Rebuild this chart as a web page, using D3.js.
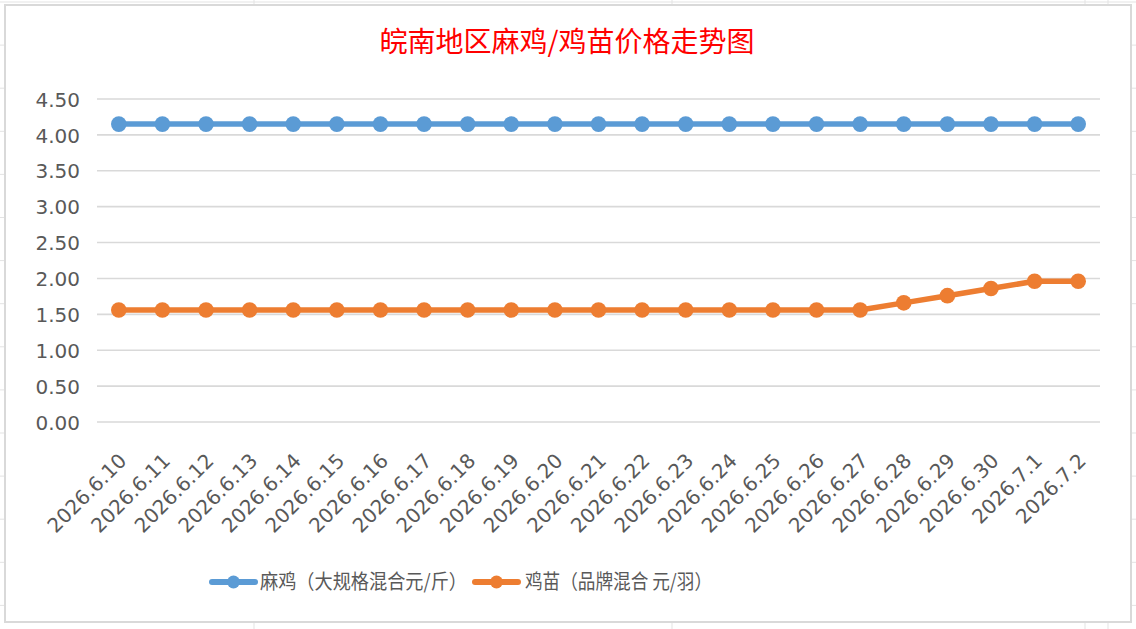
<!DOCTYPE html>
<html>
<head>
<meta charset="utf-8">
<script src="https://cdn.jsdelivr.net/npm/d3@7"></script>
<style>
  html, body { margin: 0; padding: 0; background: #fff; }
  svg { display: block; }
</style>
</head>
<body>
<svg id="chart" width="1136" height="629"></svg>
<script>
// ---- data ----
const categories = ["2026.6.10","2026.6.11","2026.6.12","2026.6.13","2026.6.14","2026.6.15","2026.6.16","2026.6.17","2026.6.18","2026.6.19","2026.6.20","2026.6.21","2026.6.22","2026.6.23","2026.6.24","2026.6.25","2026.6.26","2026.6.27","2026.6.28","2026.6.29","2026.6.30","2026.7.1","2026.7.2"];
const maji = [4.15,4.15,4.15,4.15,4.15,4.15,4.15,4.15,4.15,4.15,4.15,4.15,4.15,4.15,4.15,4.15,4.15,4.15,4.15,4.15,4.15,4.15,4.15];
const jimiao = [1.56,1.56,1.56,1.56,1.56,1.56,1.56,1.56,1.56,1.56,1.56,1.56,1.56,1.56,1.56,1.56,1.56,1.56,1.66,1.76,1.86,1.96,1.96];
const seriesNames = ["麻鸡（大规格混合元/斤）", "鸡苗（品牌混合 元/羽）"];
const yTicks = [0,0.5,1,1.5,2,2.5,3,3.5,4,4.5];
const title = "皖南地区麻鸡/鸡苗价格走势图";

const colors = ["#5B9BD5", "#ED7D31"];
const svg = d3.select("#chart");
const W = 1136, H = 629;

// spreadsheet cell gridlines behind the chart
const sheetH = d3.range(2, H, 43.1);
svg.append("g").selectAll("line").data(sheetH).join("line")
  .attr("x1", 0).attr("x2", W).attr("y1", d => d).attr("y2", d => d)
  .attr("stroke", "#E3E3E3").attr("stroke-width", 1);
svg.append("g").selectAll("line").data([254, 672, 1085, 1108]).join("line")
  .attr("x1", d => d).attr("x2", d => d).attr("y1", 0).attr("y2", H)
  .attr("stroke", "#E3E3E3").attr("stroke-width", 1);

// chart area
svg.append("rect").attr("x", 5).attr("y", 5).attr("width", 1126).attr("height", 617)
  .attr("fill", "#fff").attr("stroke", "#D9D9D9").attr("stroke-width", 2);

const plot = { left: 97, right: 1100, top: 99, bottom: 422 };
const x = d3.scaleBand().domain(categories).range([plot.left, plot.right]);
const y = d3.scaleLinear().domain([0, 4.5]).range([plot.bottom, plot.top]);
const cx = d => x(d) + x.bandwidth() / 2;

// gridlines
svg.append("g").selectAll("line").data(yTicks).join("line")
  .attr("x1", plot.left).attr("x2", plot.right)
  .attr("y1", d => y(d)).attr("y2", d => y(d))
  .attr("stroke", "#D9D9D9").attr("stroke-width", 1.6);

// y axis labels
const yAxis = d3.axisLeft(y).tickValues(yTicks).tickFormat(d3.format(".2f")).tickSize(0).tickPadding(0);
const gy = svg.append("g").attr("transform", `translate(80,0)`).call(yAxis);
gy.select(".domain").remove();
gy.selectAll("text").attr("font-family", "DejaVu Sans, sans-serif").attr("font-size", 20)
  .attr("fill", "#595959").attr("dy", "0.36em");

// x axis labels
const xAxis = d3.axisBottom(x).tickSize(0).tickPadding(0);
const gx = svg.append("g").attr("transform", `translate(0,${plot.bottom})`).call(xAxis);
gx.select(".domain").remove();
gx.selectAll(".tick text")
  .attr("font-family", "DejaVu Sans, sans-serif").attr("font-size", 20).attr("fill", "#595959")
  .attr("text-anchor", "end").attr("dy", 0).attr("y", 0)
  .attr("transform", "translate(9,40) rotate(-45)");

// series
const series = [maji, jimiao];
const line = d3.line().x((d, i) => cx(categories[i])).y(d => y(d));
series.forEach((vals, si) => {
  svg.append("path").datum(vals).attr("d", line)
    .attr("fill", "none").attr("stroke", colors[si]).attr("stroke-width", 5.5)
    .attr("stroke-linejoin", "round");
  svg.append("g").selectAll("circle").data(vals).join("circle")
    .attr("cx", (d, i) => cx(categories[i])).attr("cy", d => y(d)).attr("r", 7.8)
    .attr("fill", colors[si]);
});

// title
svg.append("text").attr("x", 567).attr("y", 52).attr("text-anchor", "middle")
  .attr("font-family", "Noto Sans CJK SC, sans-serif").attr("font-size", 28)
  .attr("fill", "#FF0000").text(title);

// legend
const legendItems = [
  { x: 212, tx: 260, w: 207 },
  { x: 475, tx: 525, w: 187 }
];
legendItems.forEach((it, i) => {
  const g = svg.append("g");
  g.append("line").attr("x1", it.x).attr("x2", it.x + 43).attr("y1", 582).attr("y2", 582)
    .attr("stroke", colors[i]).attr("stroke-width", 6).attr("stroke-linecap", "round");
  g.append("circle").attr("cx", it.x + 21.5).attr("cy", 582).attr("r", 6.5).attr("fill", colors[i]);
  g.append("text").attr("x", it.tx).attr("y", 582).attr("dy", "0.36em")
    .attr("font-family", "Noto Sans CJK SC, sans-serif").attr("font-size", 20)
    .attr("textLength", it.w).attr("lengthAdjust", "spacingAndGlyphs")
    .attr("fill", "#595959").text(seriesNames[i]);
});
</script>
</body>
</html>
